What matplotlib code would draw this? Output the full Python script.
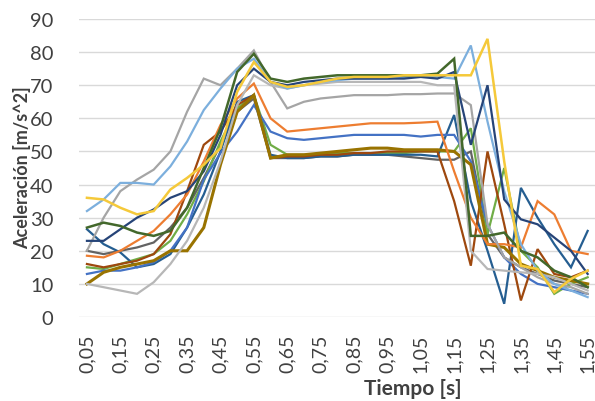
import matplotlib
matplotlib.use("Agg")
import matplotlib.pyplot as plt

plt.rcParams['font.family'] = ['Lato', 'DejaVu Sans']

tiempo = [0.05 + 0.05 * k for k in range(31)]
tick_labels = [f"{t:.2f}".replace(".", ",") for t in tiempo]

s_amarillo = [36, 35.5, 33, 31, 32, 38.5, 42, 46, 51, 68, 77, 71, 69.5, 70, 71, 72, 72.5, 72.5, 72.5, 73, 73, 73, 73, 73, 84, 47, 15.5, 14.5, 7.5, 11.5, 14]
s_celeste = [32, 35.5, 40.5, 40.5, 40, 45.5, 53, 62.5, 69, 75, 78, 71, 69, 70, 71, 71.5, 72, 72, 72, 72.5, 72.5, 72.5, 72, 82, 59, 38, 22, 14, 10, 8, 6]
s_verde_osc = [27, 28.5, 27.5, 25.5, 24.5, 26, 33, 45, 57, 74, 79.5, 72, 71, 72, 72.5, 73, 73, 73, 73, 73, 73, 73.5, 78, 24.5, 24.5, 25.5, 20, 18, 14, 12, 9]
s_marino = [23, 23, 26.5, 30, 32.5, 36, 38, 44, 55, 70, 75, 71, 70, 71, 71.5, 72, 72, 72, 72, 72, 72.5, 72, 74, 52, 70, 35.5, 29.5, 28, 24, 20, 13]
s_gris_claro = [10, 9, 8, 7, 10.5, 16, 23, 33, 47, 64, 73, 70, 69, 70, 70.5, 71, 71, 71, 71, 71, 71, 70, 70, 20, 14.5, 14, 13.5, 13, 12, 10, 8]
s_gris = [20, 30, 38, 41.5, 44.5, 50, 62, 72, 70, 75, 80.5, 71, 63, 65, 66, 66.5, 67, 67, 67, 67.3, 67.3, 67.5, 67.5, 64, 28, 18, 15, 12, 10, 9, 7]
s_naranja = [18.5, 18, 20, 23, 26, 31, 37, 47, 58, 66, 70.5, 60, 56, 56.5, 57, 57.5, 58, 58.5, 58.5, 58.5, 58.7, 59, 44, 30, 22, 22, 21, 35, 31, 20, 19]
s_azul = [13, 14, 14, 15, 16.5, 20, 27, 41.5, 49.5, 56, 64, 56, 54, 53.5, 54, 54.5, 55, 55, 55, 55, 54.5, 55, 55, 47, 28, 18, 13, 10, 9, 8, 7]
s_acero = [26.5, 22, 19.5, 15, 16, 19, 27, 37, 50, 65, 67, 49, 48, 48, 48.5, 48.5, 49, 49, 49, 49, 49, 48.5, 61, 35, 20, 4, 39, 30, 22, 15, 26]
s_oro_osc = [10, 13.5, 15, 16, 17, 20, 20, 27, 46, 62, 67, 48, 49, 49, 49.5, 50, 50.5, 51, 51, 50.5, 50.5, 50.5, 50, 46, 22, 21, 16, 14, 12, 11, 10]
s_marron = [16, 15, 16, 17, 19, 25, 38, 52, 56, 64, 67, 48, 48.5, 48.5, 49, 49, 49.5, 49.5, 50, 50, 50, 50, 35, 15.5, 50, 28, 5, 20.5, 13, 12, 14]
s_verde = [15, 14.5, 16, 17.5, 19, 23, 31, 41, 53, 63, 67, 52, 49, 49, 49, 49.5, 49.5, 49.5, 49.5, 49.5, 50, 50, 50, 57, 25, 45, 20, 15, 7, 10, 12]
s_gris_osc = [20, 19, 20, 21, 22.5, 27, 33, 42, 52, 62, 66, 48, 48, 48, 48.5, 48.5, 49, 49, 49, 48.5, 48, 47.5, 47.5, 50, 25, 18, 15, 13, 11, 10, 9]

series = [
    (s_gris_osc, '#636363', 1.6),
    (s_verde, '#70AD47', 1.6),
    (s_acero, '#255E91', 1.6),
    (s_azul, '#4472C4', 1.6),
    (s_marron, '#9E480E', 1.6),
    (s_oro_osc, '#997300', 2.2),
    (s_naranja, '#ED7D31', 1.6),
    (s_gris, '#A5A5A5', 1.6),
    (s_gris_claro, '#B7B7B7', 1.6),
    (s_celeste, '#7CAFDD', 1.6),
    (s_marino, '#264478', 1.6),
    (s_verde_osc, '#43682B', 1.8),
    (s_amarillo, '#F5C93A', 1.8),
]

fig = plt.figure(figsize=(5.95, 4.02), dpi=100)
ax = fig.add_axes([78.6 / 595, 1 - 318 / 402, (596 - 78.6) / 595, 298 / 402])

x = list(range(len(tiempo)))
for vals, col, lw in series:
    ax.plot(x, vals, color=col, lw=lw, solid_joinstyle='miter')

ax.set_xlim(-0.5, len(tiempo) - 0.5)
ax.set_ylim(0, 90)
ax.set_yticks(range(0, 91, 10))
ax.set_xticks(x[::2])
ax.set_xticklabels(tick_labels[::2], rotation=90, fontsize=14, color='#404040')
ax.tick_params(axis='y', labelsize=14.5, labelcolor='#404040', length=0, pad=18)
ax.tick_params(axis='x', length=0, pad=12)
ax.grid(axis='y', color='#D9D9D9', lw=1)
ax.set_axisbelow(True)
for s in ax.spines.values():
    s.set_visible(False)

fig.text(22 / 595, 1 - 168 / 402, "Aceleración [m/s^2]", rotation=90, ha='center', va='center',
         fontsize=13, fontweight='bold', color='#404040')
fig.text(413 / 595, 1 - 389 / 402, "Tiempo [s]", ha='center', va='center',
         fontsize=15, fontweight='bold', color='#404040')

fig.savefig("out.png", dpi=100)
